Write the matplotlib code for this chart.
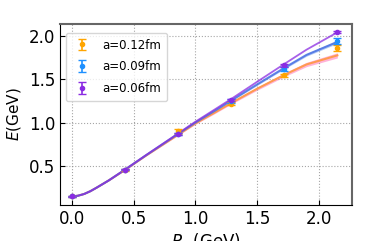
import matplotlib
matplotlib.use("Agg")
import matplotlib.pyplot as plt
import numpy as np

# data points
pz = [0.0, 0.43, 0.86, 1.29, 1.72, 2.15]
E_12 = [0.15, 0.455, 0.90, 1.22, 1.545, 1.86]
err_12 = [0.01, 0.01, 0.03, 0.02, 0.015, 0.03]
E_09 = [0.15, 0.46, 0.87, 1.25, 1.62, 1.94]
err_09 = [0.01, 0.01, 0.01, 0.02, 0.025, 0.04]
E_06 = [0.15, 0.458, 0.873, 1.26, 1.66, 2.04]
err_06 = [0.008, 0.008, 0.01, 0.012, 0.015, 0.012]

# fit curves
pz_fit = [0.0, 0.05, 0.1, 0.15, 0.2, 0.3, 0.43, 0.6, 0.86, 1.0, 1.15, 1.29, 1.5, 1.72, 1.9, 2.15]
fit_12 = [0.15, 0.158, 0.178, 0.21, 0.25, 0.335, 0.455, 0.62, 0.86, 0.99, 1.11, 1.225, 1.39, 1.55, 1.67, 1.775]
band_12 = [0.004, 0.004, 0.004, 0.004, 0.004, 0.005, 0.005, 0.006, 0.008, 0.01, 0.012, 0.013, 0.017, 0.021, 0.025, 0.03]
fit_09 = [0.15, 0.158, 0.178, 0.21, 0.25, 0.335, 0.458, 0.623, 0.87, 1.0, 1.13, 1.255, 1.44, 1.63, 1.78, 1.93]
band_09 = [0.003, 0.003, 0.003, 0.003, 0.003, 0.004, 0.004, 0.005, 0.006, 0.007, 0.008, 0.009, 0.011, 0.013, 0.015, 0.018]
fit_06 = [0.15, 0.158, 0.178, 0.21, 0.25, 0.335, 0.458, 0.625, 0.875, 1.01, 1.145, 1.272, 1.47, 1.675, 1.84, 2.04]

fig = plt.figure(figsize=(3.9, 2.41), dpi=100)
ax = fig.add_axes([0.154, 0.149, 0.749, 0.751])

lo = np.array(fit_12) - np.array(band_12)
hi = np.array(fit_12) + np.array(band_12)
ax.fill_between(pz_fit, lo, hi, color='hotpink', alpha=0.5, lw=0)
ax.plot(pz_fit, fit_12, color='#ff9a50', lw=1.5)

lo = np.array(fit_09) - np.array(band_09)
hi = np.array(fit_09) + np.array(band_09)
ax.fill_between(pz_fit, lo, hi, color='cornflowerblue', alpha=0.5, lw=0)
ax.plot(pz_fit, fit_09, color='royalblue', lw=1.5, alpha=0.8)

ax.plot(pz_fit, fit_06, color='blueviolet', lw=1.3, alpha=0.75)

ax.errorbar(pz, E_12, yerr=err_12, fmt='o', ms=3, color='orange', capsize=3,
            elinewidth=1.2, label='a=0.12fm')
ax.errorbar(pz, E_09, yerr=err_09, fmt='o', ms=3, color='dodgerblue', capsize=3,
            elinewidth=1.2, label='a=0.09fm')
ax.errorbar(pz, E_06, yerr=err_06, fmt='o', ms=3, color='blueviolet', capsize=3,
            elinewidth=1.2, label='a=0.06fm')

ax.set_xlim(-0.095, 2.27)
ax.set_ylim(0.05, 2.135)
ax.set_xticks([0.0, 0.5, 1.0, 1.5, 2.0])
ax.set_yticks([0.5, 1.0, 1.5, 2.0])
ax.tick_params(direction='in', labelsize=12)
ax.grid(True, linestyle=':', color='gray', alpha=0.7)
for s in ['top', 'right']:
    ax.spines[s].set_color('#666666')
    ax.spines[s].set_linewidth(1.5)

ax.set_xlabel('$P_z$ (GeV)', fontsize=12, labelpad=2)
ax.set_ylabel('$E$(GeV)', fontsize=11)
ax.legend(loc='upper left', fontsize=8.5, handlelength=1.8, labelspacing=0.75,
          borderpad=0.5, bbox_to_anchor=(0.0, 0.985))

fig.savefig('out.png')
